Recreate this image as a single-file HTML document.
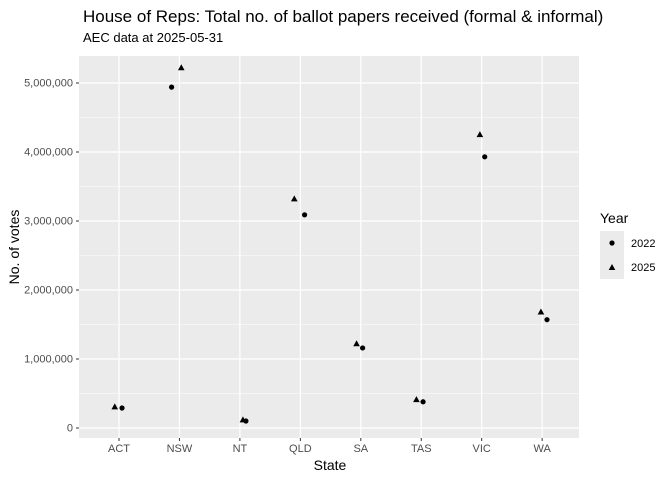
<!DOCTYPE html>
<html><head><meta charset="utf-8"><style>
body{margin:0;background:#fff;font-family:"Liberation Sans",sans-serif;}
</style></head><body>
<svg id="c" width="672" height="480" xmlns="http://www.w3.org/2000/svg">
<text x="83" y="22" font-size="17" fill="#000">House of Reps: Total no. of ballot papers received (formal &amp; informal)</text>
<text x="83" y="42" font-size="13" fill="#000">AEC data at 2025-05-31</text>
<rect x="79" y="56" width="500" height="382" fill="#ebebeb"/>
<g id="grid"></g><g id="axes"></g><g id="marks"></g>
<text x="330" y="470" font-size="14" text-anchor="middle">State</text>
<text transform="translate(19,247) rotate(-90)" font-size="14" text-anchor="middle">No. of votes</text>
<g>
<text x="600" y="223" font-size="14">Year</text>
<rect x="600" y="231" width="24" height="24" fill="#ebebeb"/>
<circle cx="612" cy="243" r="2.6" fill="#000"/>
<text x="631" y="247" font-size="11">2022</text>
<rect x="600" y="255" width="24" height="24" fill="#ebebeb"/>
<polygon points="612,264 615.3,270 608.7,270" fill="#000"/>
<text x="631" y="271" font-size="11">2025</text>
</g>
</svg>
<script>
const categories=["ACT","NSW","NT","QLD","SA","TAS","VIC","WA"];
const votes2022=[290000,4940000,101000,3090000,1160000,380000,3930000,1570000];
const votes2025=[305000,5220000,116000,3320000,1220000,410000,4250000,1680000];
const jitter2022=[0.05,-0.13,0.1,0.07,0.03,0.03,0.05,0.08];
const jitter2025=[-0.07,0.03,0.05,-0.1,-0.07,-0.08,-0.03,-0.02];
const yTicks=[0,1000000,2000000,3000000,4000000,5000000];
const yTickLabels=["0","1,000,000","2,000,000","3,000,000","4,000,000","5,000,000"];
const NS="http://www.w3.org/2000/svg";
const x=i=>119+i*60.45;
const y=v=>428-v*69/1000000;
function mk(tag,attrs,parent){const e=document.createElementNS(NS,tag);for(const k in attrs)e.setAttribute(k,attrs[k]);document.getElementById(parent).appendChild(e);return e;}
yTicks.forEach((t,i)=>{
 if(i<yTicks.length-1){const m=mk('line',{x1:79,x2:579,y1:y(t+500000),y2:y(t+500000),stroke:'#fff','stroke-width':0.6},'grid');
 }
 const g=mk('line',{x1:79,x2:579,y1:y(t),y2:y(t),stroke:'#fff','stroke-width':1.2},'grid');
 
 const tk=mk('line',{x1:76,x2:79,y1:y(t),y2:y(t),stroke:'#333'},'axes');
 
 const l=mk('text',{x:73,y:y(t)+3.5,'font-size':11,'text-anchor':'end',fill:'#4d4d4d'},'axes');
 l.textContent=yTickLabels[i];
 
});
categories.forEach((c,i)=>{
 const g=mk('line',{x1:x(i),x2:x(i),y1:56,y2:438,stroke:'#fff','stroke-width':1.2},'grid');
 
 const tk=mk('line',{x1:x(i),x2:x(i),y1:438,y2:441,stroke:'#333'},'axes');
 
 const l=mk('text',{x:x(i),y:452,'font-size':11,'text-anchor':'middle',fill:'#4d4d4d'},'axes');
 l.textContent=c;
 
 const cx=x(i+jitter2022[i]),cy=y(votes2022[i]);
 const p=mk('circle',{cx:cx,cy:cy,r:2.6,fill:'#000'},'marks');
 
 const tx=x(i+jitter2025[i]),ty=y(votes2025[i]);
 const t=mk('polygon',{points:`${tx},${ty-3.6} ${tx+3.3},${ty+2.4} ${tx-3.3},${ty+2.4}`,fill:'#000'},'marks');
 
});
</script>
</body></html>
